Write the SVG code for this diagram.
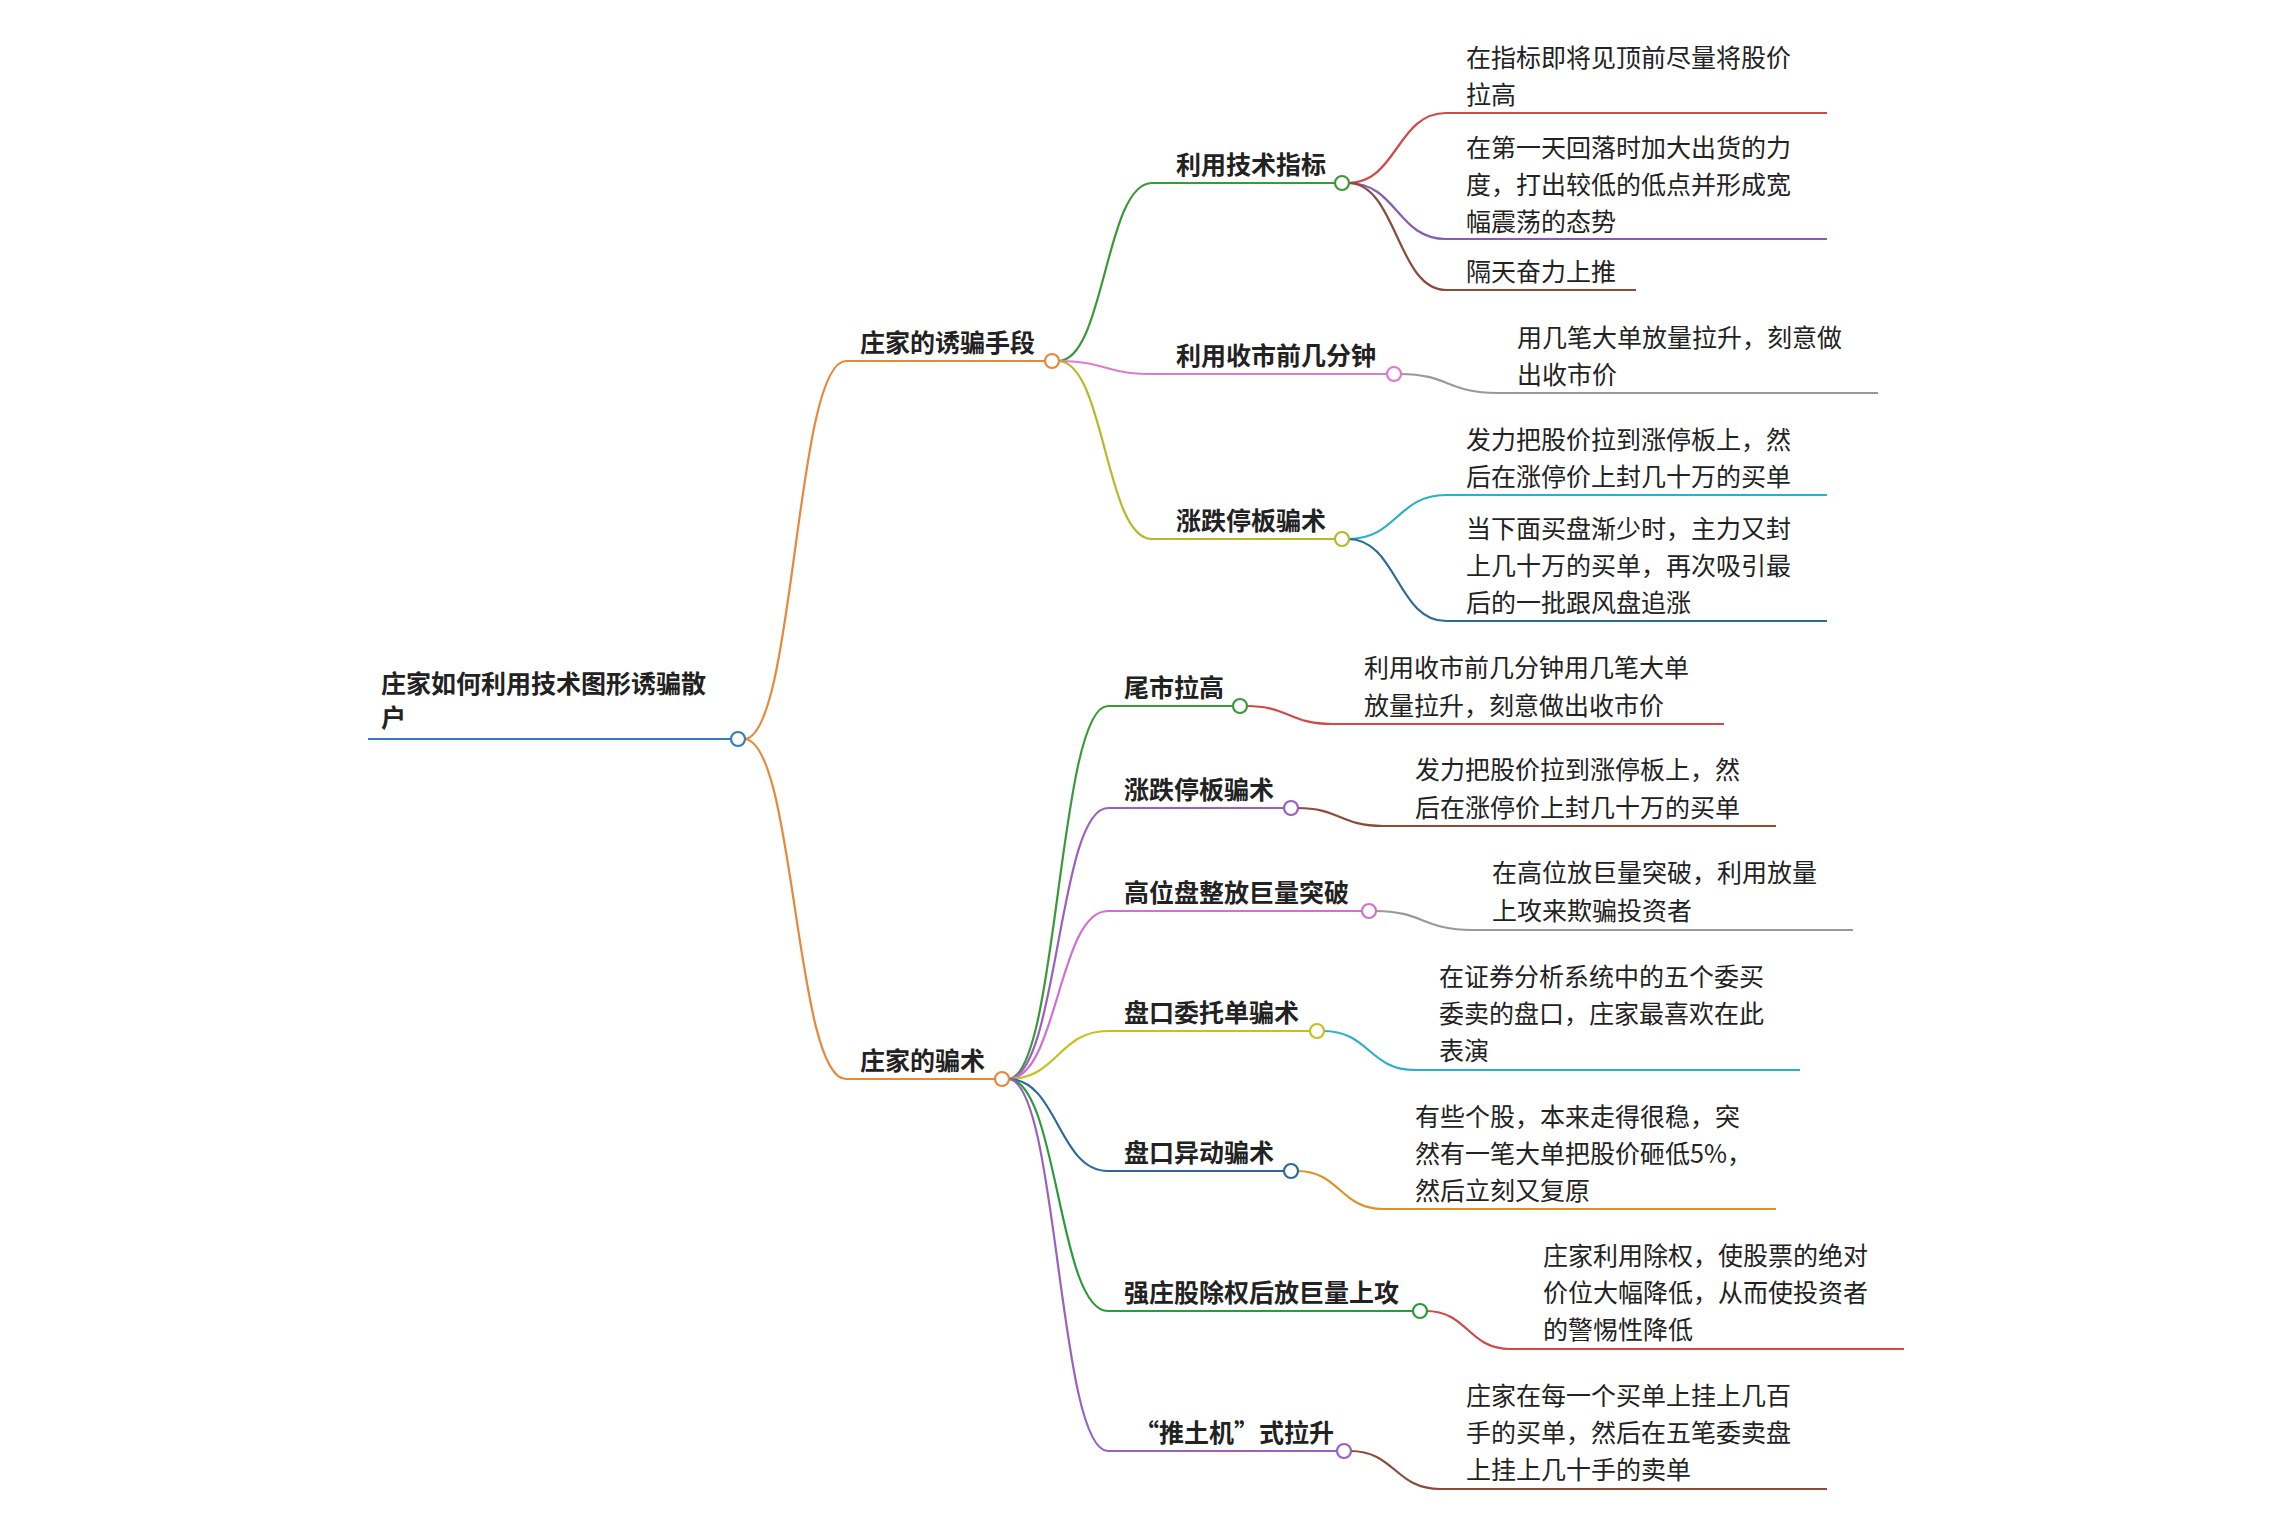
<svg xmlns="http://www.w3.org/2000/svg" width="2270" height="1517" viewBox="0 0 2270 1517">
<style>
text{font-family:"Noto Sans CJK SC","Noto Sans",sans-serif;font-size:25px;fill:#222}
.b{font-weight:bold}
path{fill:none;stroke-width:2.2}
circle{fill:#fff;stroke-width:2.2}
</style>
<rect width="2270" height="1517" fill="#fff"/>
<g id="connectors">
<path d="M368,739 H732" stroke="#2f7fc1"/>
<path d="M744,739 C795,739 795,361 846,361 H1046" stroke="#e8883a"/>
<path d="M744,739 C795,739 795,1079 846,1079 H996" stroke="#e8883a"/>
<path d="M1058,361 C1105,361 1105,183 1152,183 H1336" stroke="#3a9a3a"/>
<path d="M1058,361 C1105,361 1105,374 1152,374 H1388" stroke="#e07ad0"/>
<path d="M1058,361 C1105,361 1105,539 1152,539 H1336" stroke="#b8b82a"/>
<path d="M1348,183 C1397,183 1397,113 1446,113 H1827" stroke="#d04848"/>
<path d="M1348,183 C1397,183 1397,239 1446,239 H1827" stroke="#8a5ab0"/>
<path d="M1348,183 C1397,183 1397,290 1446,290 H1636" stroke="#8b4a3a"/>
<path d="M1400,374 C1448,374 1448,393 1497,393 H1878" stroke="#999"/>
<path d="M1348,539 C1397,539 1397,495 1446,495 H1827" stroke="#2ab0c8"/>
<path d="M1348,539 C1397,539 1397,621 1446,621 H1827" stroke="#2a6a9a"/>
<path d="M1008,1079 C1058,1079 1058,706 1108,706 H1234" stroke="#3a9a3a"/>
<path d="M1008,1079 C1058,1079 1058,808 1108,808 H1285" stroke="#9a60c0"/>
<path d="M1008,1079 C1058,1079 1058,911 1108,911 H1363" stroke="#d070d0"/>
<path d="M1008,1079 C1058,1079 1058,1031 1108,1031 H1311" stroke="#c8c020"/>
<path d="M1008,1079 C1058,1079 1058,1171 1108,1171 H1285" stroke="#2a6a9a"/>
<path d="M1008,1079 C1058,1079 1058,1311 1108,1311 H1414" stroke="#2a9a3a"/>
<path d="M1008,1079 C1058,1079 1058,1451 1108,1451 H1338" stroke="#9a60c0"/>
<path d="M1246,706 C1289,706 1289,724 1332,724 H1724" stroke="#d04848"/>
<path d="M1297,808 C1340,808 1340,826 1383,826 H1776" stroke="#8b4a3a"/>
<path d="M1375,911 C1423,911 1423,930 1472,930 H1853" stroke="#999"/>
<path d="M1323,1031 C1369,1031 1369,1070 1415,1070 H1800" stroke="#2ab0c8"/>
<path d="M1297,1171 C1340,1171 1340,1209 1383,1209 H1776" stroke="#e09020"/>
<path d="M1426,1311 C1468,1311 1468,1349 1510,1349 H1904" stroke="#d04848"/>
<path d="M1350,1451 C1395,1451 1395,1489 1440,1489 H1827" stroke="#8b4a3a"/>
</g>
<g id="root"><circle cx="738" cy="739" r="7" stroke="#2f7fc1"/><text class="b" x="381" y="693">庄家如何利用技术图形诱骗散</text><text class="b" x="381" y="727">户</text></g>
<g id="b1"><circle cx="1052" cy="361" r="7" stroke="#e8883a"/><text class="b" x="860" y="352">庄家的诱骗手段</text></g>
<g id="b2"><circle cx="1002" cy="1079" r="7" stroke="#e8883a"/><text class="b" x="860" y="1070">庄家的骗术</text></g>
<g id="c1"><circle cx="1342" cy="183" r="7" stroke="#3a9a3a"/><text class="b" x="1176" y="174">利用技术指标</text></g>
<g id="c2"><circle cx="1394" cy="374" r="7" stroke="#e07ad0"/><text class="b" x="1176" y="365">利用收市前几分钟</text></g>
<g id="c3"><circle cx="1342" cy="539" r="7" stroke="#b8b82a"/><text class="b" x="1176" y="530">涨跌停板骗术</text></g>
<g id="l1"><text x="1466" y="67">在指标即将见顶前尽量将股价</text><text x="1466" y="104">拉高</text></g>
<g id="l2"><text x="1466" y="157">在第一天回落时加大出货的力</text><text x="1466" y="194">度，打出较低的低点并形成宽</text><text x="1466" y="231">幅震荡的态势</text></g>
<g id="l3"><text x="1466" y="281">隔天奋力上推</text></g>
<g id="l4"><text x="1517" y="347">用几笔大单放量拉升，刻意做</text><text x="1517" y="384">出收市价</text></g>
<g id="l5"><text x="1466" y="449">发力把股价拉到涨停板上，然</text><text x="1466" y="486">后在涨停价上封几十万的买单</text></g>
<g id="l6"><text x="1466" y="538">当下面买盘渐少时，主力又封</text><text x="1466" y="575">上几十万的买单，再次吸引最</text><text x="1466" y="612">后的一批跟风盘追涨</text></g>
<g id="d1"><circle cx="1240" cy="706" r="7" stroke="#3a9a3a"/><text class="b" x="1124" y="697">尾市拉高</text></g>
<g id="d2"><circle cx="1291" cy="808" r="7" stroke="#9a60c0"/><text class="b" x="1124" y="799">涨跌停板骗术</text></g>
<g id="d3"><circle cx="1369" cy="911" r="7" stroke="#d070d0"/><text class="b" x="1124" y="902">高位盘整放巨量突破</text></g>
<g id="d4"><circle cx="1317" cy="1031" r="7" stroke="#c8c020"/><text class="b" x="1124" y="1022">盘口委托单骗术</text></g>
<g id="d5"><circle cx="1291" cy="1171" r="7" stroke="#2a6a9a"/><text class="b" x="1124" y="1162">盘口异动骗术</text></g>
<g id="d6"><circle cx="1420" cy="1311" r="7" stroke="#2a9a3a"/><text class="b" x="1124" y="1302">强庄股除权后放巨量上攻</text></g>
<g id="d7"><circle cx="1344" cy="1451" r="7" stroke="#9a60c0"/><text class="b" x="1134" y="1442">“推土机”式拉升</text></g>
<g id="m1"><text x="1364" y="677">利用收市前几分钟用几笔大单</text><text x="1364" y="715">放量拉升，刻意做出收市价</text></g>
<g id="m2"><text x="1415" y="779">发力把股价拉到涨停板上，然</text><text x="1415" y="817">后在涨停价上封几十万的买单</text></g>
<g id="m3"><text x="1492" y="882">在高位放巨量突破，利用放量</text><text x="1492" y="920">上攻来欺骗投资者</text></g>
<g id="m4"><text x="1439" y="986">在证券分析系统中的五个委买</text><text x="1439" y="1023">委卖的盘口，庄家最喜欢在此</text><text x="1439" y="1060">表演</text></g>
<g id="m5"><text x="1415" y="1126">有些个股，本来走得很稳，突</text><text x="1415" y="1163">然有一笔大单把股价砸低5%，</text><text x="1415" y="1200">然后立刻又复原</text></g>
<g id="m6"><text x="1543" y="1265">庄家利用除权，使股票的绝对</text><text x="1543" y="1302">价位大幅降低，从而使投资者</text><text x="1543" y="1339">的警惕性降低</text></g>
<g id="m7"><text x="1466" y="1405">庄家在每一个买单上挂上几百</text><text x="1466" y="1442">手的买单，然后在五笔委卖盘</text><text x="1466" y="1479">上挂上几十手的卖单</text></g>
</svg>
